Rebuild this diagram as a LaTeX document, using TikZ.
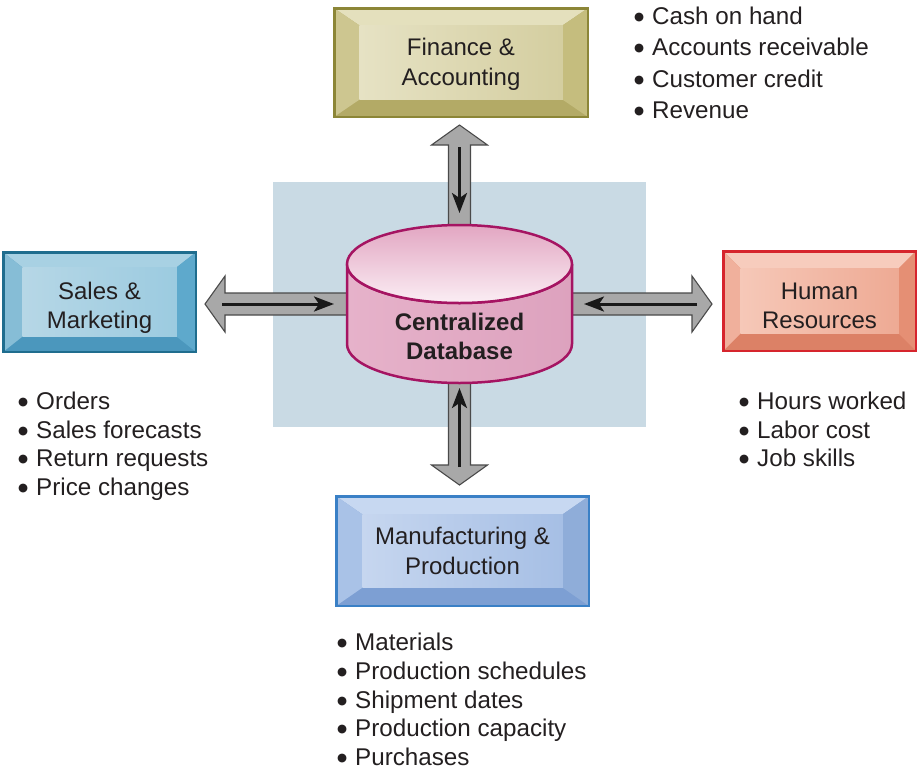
\documentclass[tikz,border=0pt]{standalone}
\usepackage{fontspec}
\setmainfont{Liberation Sans}
\newfontfamily\bulfont{DejaVu Sans}
\usetikzlibrary{calc,arrows.meta}

\definecolor{txt}{HTML}{231F20}
\definecolor{bgpanel}{HTML}{C9DAE4}
\definecolor{arrgray}{HTML}{A8A8A8}
\definecolor{arrline}{HTML}{4A4A4A}
\definecolor{dbborder}{HTML}{A51462}
\definecolor{dbbody}{HTML}{E6B2CA}
\definecolor{dbbody2}{HTML}{DDA2BE}
\definecolor{dbtop1}{HTML}{E2A6C2}
\definecolor{dbtop2}{HTML}{FBEEF4}

% Finance
\definecolor{finB}{HTML}{8C8637}
\definecolor{finT}{HTML}{E4E0BD}
\definecolor{finL}{HTML}{CDC690}
\definecolor{finR}{HTML}{C5BD7E}
\definecolor{finBot}{HTML}{B3AA66}
\definecolor{finF}{HTML}{E6E2C4}
\definecolor{finG}{HTML}{D4CEA0}
% Sales
\definecolor{salB}{HTML}{1F6D8E}
\definecolor{salT}{HTML}{A8D1E3}
\definecolor{salL}{HTML}{86BDD6}
\definecolor{salR}{HTML}{5EA9CC}
\definecolor{salBot}{HTML}{4B97BD}
\definecolor{salF}{HTML}{B6D7E6}
\definecolor{salG}{HTML}{9CCBE0}
% HR
\definecolor{hrB}{HTML}{D6252D}
\definecolor{hrT}{HTML}{F7CCBD}
\definecolor{hrL}{HTML}{F0B09C}
\definecolor{hrR}{HTML}{E58F74}
\definecolor{hrBot}{HTML}{DC8166}
\definecolor{hrF}{HTML}{F6C8B8}
\definecolor{hrG}{HTML}{EEAA94}
% Manufacturing
\definecolor{mfgB}{HTML}{3A80C6}
\definecolor{mfgT}{HTML}{C7D8F1}
\definecolor{mfgL}{HTML}{A9C2E7}
\definecolor{mfgR}{HTML}{8FADD9}
\definecolor{mfgBot}{HTML}{7D9FD3}
\definecolor{mfgF}{HTML}{C6D6EF}
\definecolor{mfgG}{HTML}{A6BFE5}

\newcommand{\bul}{\makebox[19pt][l]{\hspace{1pt}\raisebox{4pt}{\bulfont\fontsize{11.5}{11.5}\selectfont ●}}}

\newcommand{\blockarrow}[3]{%
  \begin{scope}[shift={(#1)}, rotate=#2]
    \filldraw[arrowbody] (0,0) -- (-20,28) -- (-20,11) -- (-#3,11)
      -- (-#3,-11) -- (-20,-11) -- (-20,-28) -- cycle;
  \end{scope}}

\tikzset{
  bevelbox/.style n args={3}{
    draw=#1B, line width=2.5pt, fill=#1Bot, rectangle,
    path picture={
      \coordinate (bNW) at (path picture bounding box.north west);
      \coordinate (bSE) at (path picture bounding box.south east);
      \coordinate (bNE) at (bSE |- bNW);
      \coordinate (bSW) at (bNW |- bSE);
      \coordinate (iNW) at ([shift={(#2pt,-#3pt)}]bNW);
      \coordinate (iNE) at ([shift={(-#2pt,-#3pt)}]bNE);
      \coordinate (iSE) at ([shift={(-#2pt,#3pt)}]bSE);
      \coordinate (iSW) at ([shift={(#2pt,#3pt)}]bSW);
      \fill[#1T] (bNW) -- (bNE) -- (iNE) -- (iNW) -- cycle;
      \fill[#1L] (bNW) -- (iNW) -- (iSW) -- (bSW) -- cycle;
      \fill[#1R] (bNE) -- (bSE) -- (iSE) -- (iNE) -- cycle;
      \shade[left color=#1F, right color=#1G] (iNW) rectangle (iSE);
    }
  },
  boxtext/.style={text=txt, align=center, inner sep=0pt, font=\fontsize{24}{29.5}\selectfont},
  arrowbody/.style={fill=arrgray, draw=arrline, line width=1.1pt, line join=miter},
  inarrow/.style={draw=black!90, line width=3pt, -{Stealth[length=20pt,width=15pt,inset=5pt]}},
  item/.style={anchor=base west, inner sep=0pt, text=txt, font=\fontsize{24.2}{28}\selectfont},
}

\begin{document}
\begin{tikzpicture}[x=1pt,y=-1pt]
\useasboundingbox (0,0) rectangle (919,772);

% background panel
\fill[bgpanel] (273,182) rectangle (646,427);

% department boxes
\node[bevelbox={fin}{25}{17}, minimum width=253.5pt, minimum height=108.5pt] (fin) at (461,62.5) {};
\node[bevelbox={sal}{19}{15}, minimum width=192.5pt, minimum height=99.5pt] (sal) at (99.5,302) {};
\node[bevelbox={hr}{17}{17}, minimum width=192.5pt, minimum height=99.5pt] (hr) at (819.5,301) {};
\node[bevelbox={mfg}{26}{18}, minimum width=252.5pt, minimum height=109.5pt] (mfg) at (462.5,551) {};

\node[boxtext] (finT) at ($(fin.center)+(0,2)$) {Finance \&\\Accounting};
\node[boxtext] (salT) at ($(sal.center)+(0,6)$) {Sales \&\\Marketing};
\node[boxtext] (hrT) at ($(hr.center)+(0,5)$) {Human\\Resources};
\node[boxtext] (mfgT) at ($(mfg.center)+(0,0)$) {Manufacturing \&\\Production};

% database reference points
\coordinate (dbc) at (459.5,304);
\coordinate (dbtop) at (459.5,225);
\coordinate (dbbot) at (459.5,383);
\coordinate (dbleft) at (347,304);
\coordinate (dbright) at (572,304);

% arrow tips
\coordinate (ftip) at ($(fin.south -| dbc)+(0,7)$);
\coordinate (stip) at ($(sal.east |- dbc)+(8,0)$);
\coordinate (htip) at ($(hr.west |- dbc)+(-10,0)$);
\coordinate (mtip) at ($(mfg.north -| dbc)+(0,-10)$);

% block arrows
\blockarrow{ftip}{90}{179}
\blockarrow{stip}{180}{254}
\blockarrow{htip}{0}{252}
\blockarrow{mtip}{-90}{181}

% inner flow arrows (toward the database)
\draw[inarrow] ($(ftip)+(0,22)$) -- ($(dbtop)+(0,-12)$);
\draw[inarrow] ($(stip)+(17,0)$) -- ($(dbleft)+(-13,0)$);
\draw[inarrow] ($(htip)+(-15,0)$) -- ($(dbright)+(12,0)$);
\draw[inarrow] ($(mtip)+(0,-18)$) -- ($(dbbot)+(0,5)$);

% cylinder
\path[left color=dbbody, right color=dbbody2, draw=dbborder, line width=2.5pt]
  (347,264) -- (347,344) arc[start angle=180, end angle=0, x radius=112.5, y radius=39]
  -- (572,264) arc[start angle=0, end angle=180, x radius=112.5, y radius=39] -- cycle;
\path[top color=dbtop1, bottom color=dbtop2, draw=dbborder, line width=2.5pt]
  (459.5,264) ellipse[x radius=112.5, y radius=39];
\node[text=txt, align=center, font=\bfseries\fontsize{24}{29}\selectfont] (db) at (459.5,336) {Centralized\\Database};

% bullet lists
\foreach \t [count=\i] in {Cash on hand, Accounts receivable, Customer credit, Revenue}
  \node[item] (fa\i) at (633,{24.5+31.3*(\i-1)}) {\bul\t};
\foreach \t [count=\i] in {Orders, Sales forecasts, Return requests, Price changes}
  \node[item] (sm\i) at (17,{409.5+28.7*(\i-1)}) {\bul\t};
\foreach \t [count=\i] in {Hours worked, Labor cost, Job skills}
  \node[item] (hr\i) at (738,{409.5+28.7*(\i-1)}) {\bul\t};
\foreach \t [count=\i] in {Materials, Production schedules, Shipment dates, Production capacity, Purchases}
  \node[item] (mp\i) at (336,{650.5+28.75*(\i-1)}) {\bul\t};
\end{tikzpicture}
\end{document}
